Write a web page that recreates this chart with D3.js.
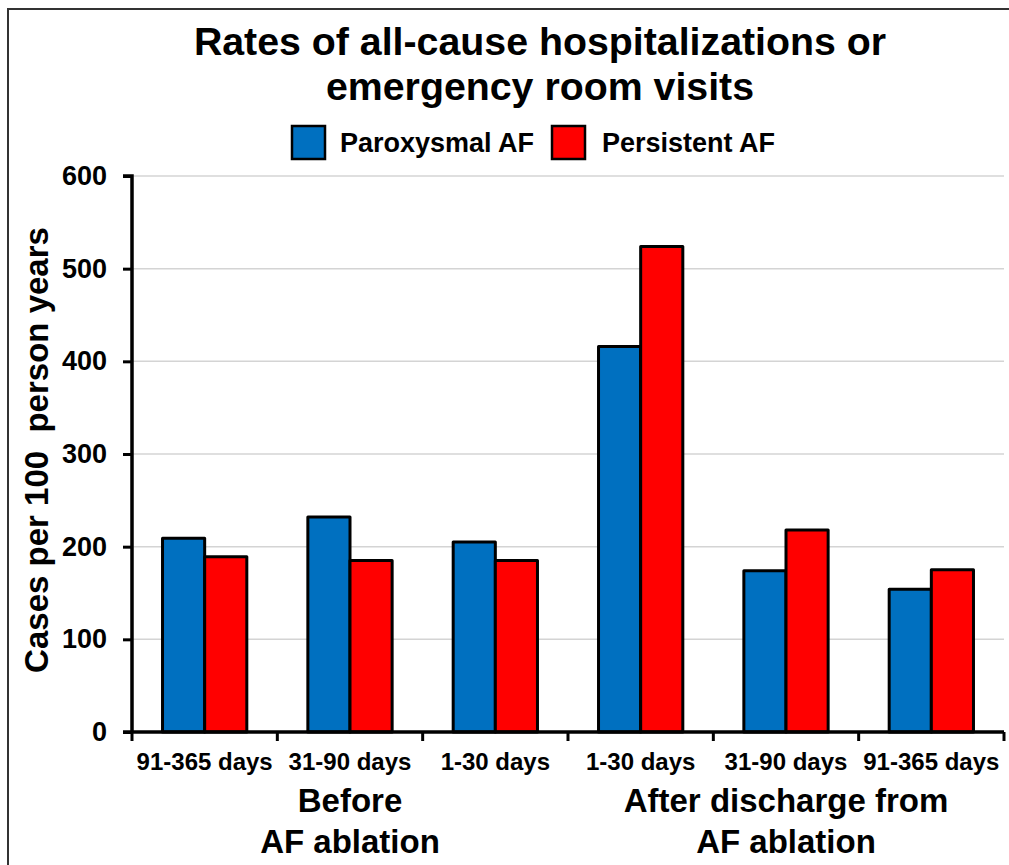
<!DOCTYPE html>
<html><head><meta charset="utf-8">
<script src="https://cdn.jsdelivr.net/npm/d3@7"></script>
<style>body{margin:0;background:#fff}svg{display:block}text{font-family:"Liberation Sans",Arial,sans-serif;font-weight:bold;fill:#000}</style>
</head><body>
<svg id="c" width="1009" height="865"></svg>
<script>
const categories = ["91-365 days","31-90 days","1-30 days","1-30 days","31-90 days","91-365 days"];
const seriesNames = ["Paroxysmal AF","Persistent AF"];
const paroxysmal = [209, 232, 205, 416, 174, 154];
const persistent = [189, 185, 185, 524, 218, 175];
const yTicks = [0,100,200,300,400,500,600];
const colors = ["#0070C0","#FF0000"];
const groupLabels = [["Before","AF ablation"],["After discharge from","AF ablation"]];

const svg = d3.select("#c");
// frame
svg.append("path").attr("d","M8,865 V9 H1009").attr("fill","none").attr("stroke","#333").attr("stroke-width",2);

const x0 = 132, x1 = 1004, yTop = 176, yBot = 732;
const x = d3.scaleBand().domain(d3.range(categories.length)).range([x0,x1]).paddingInner(0.42).paddingOuter(0.21);
const xs = d3.scaleBand().domain([0,1]).range([0,x.bandwidth()]);
const y = d3.scaleLinear().domain([0,600]).range([yBot,yTop]);

// gridlines
svg.append("g").selectAll("line").data(yTicks.filter(d=>d>0)).join("line")
  .attr("x1",x0).attr("x2",x1).attr("y1",d=>y(d)).attr("y2",d=>y(d))
  .attr("stroke","#d4d4d4").attr("stroke-width",1.5);

// bars
const data = categories.map((c,i)=>({i, vals:[paroxysmal[i], persistent[i]]}));
const g = svg.append("g").selectAll("g").data(data).join("g").attr("transform",d=>`translate(${x(d.i)},0)`);
g.selectAll("rect").data(d=>d.vals.map((v,k)=>({v,k}))).join("rect")
  .attr("x",d=>xs(d.k)).attr("width",xs.bandwidth()).attr("y",d=>y(d.v)).attr("height",d=>y(0)-y(d.v))
  .attr("fill",d=>colors[d.k]).attr("stroke","#000").attr("stroke-width",3).attr("stroke-linejoin","round");

// y axis
const ya = svg.append("g").attr("transform",`translate(${x0},0)`)
  .call(d3.axisLeft(y).tickValues(yTicks).tickSize(9).tickPadding(16));
ya.select(".domain").attr("stroke","#000").attr("stroke-width",3.5).attr("d",`M-9,${yTop}H0V${yBot}`);
ya.selectAll(".tick line").attr("stroke","#000").attr("stroke-width",3);
ya.selectAll(".tick text").style("font-size","27px").style("font-family","Liberation Sans, Arial, sans-serif").style("font-weight","bold").attr("fill","#000");

// x axis
const xTickScale = d3.scaleLinear().domain([0,categories.length]).range([x0,x1]);
const xa = svg.append("g").attr("transform",`translate(0,${yBot})`);
xa.append("line").attr("x1",x0-9).attr("x2",x1).attr("stroke","#000").attr("stroke-width",3.5);
xa.selectAll(".tk").data(d3.range(categories.length+1)).join("line").attr("class","tk")
  .attr("x1",d=>xTickScale(d)).attr("x2",d=>xTickScale(d)).attr("y1",0).attr("y2",9)
  .attr("stroke","#000").attr("stroke-width",3);
xa.selectAll("text").data(categories).join("text")
  .attr("x",(d,i)=>x(i)+x.bandwidth()/2).attr("y",38).attr("text-anchor","middle")
  .style("font-size","24px").text(d=>d);

// group labels
const gc = [xTickScale(1.5), xTickScale(4.5)];
groupLabels.forEach((lines,gi)=>{
  lines.forEach((t,li)=>{
    svg.append("text").attr("x",gc[gi]).attr("y",812+li*41).attr("text-anchor","middle")
      .style("font-size","33px").text(t);
  });
});

// y title
svg.append("text").attr("transform",`translate(48,450) rotate(-90)`).attr("text-anchor","middle")
  .style("font-size","33px").attr("xml:space","preserve").style("white-space","pre").text("Cases per 100  person years");

// title
svg.append("text").attr("x",540).attr("y",55).attr("text-anchor","middle").style("font-size","39.3px").text("Rates of all-cause hospitalizations or");
svg.append("text").attr("x",540).attr("y",100).attr("text-anchor","middle").style("font-size","39.3px").text("emergency room visits");

// legend
const lg = [{x:292,tx:340},{x:552,tx:602}];
seriesNames.forEach((n,k)=>{
  svg.append("rect").attr("x",lg[k].x).attr("y",126).attr("width",33).attr("height",33)
    .attr("fill",colors[k]).attr("stroke","#000").attr("stroke-width",2.5);
  svg.append("text").attr("x",lg[k].tx).attr("y",152).style("font-size","27px").text(n);
});
</script>
</body></html>
